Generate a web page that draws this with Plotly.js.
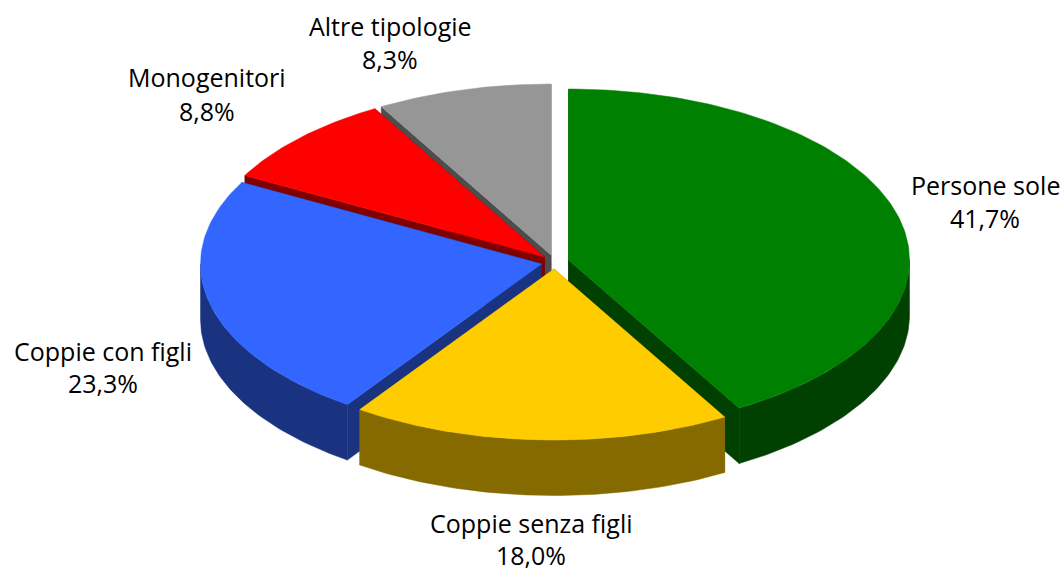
<!DOCTYPE html>
<html><head><meta charset="utf-8">
<script src="https://cdn.plot.ly/plotly-3.0.1.min.js"></script>
<style>html,body{margin:0;padding:0;background:#fff}#chart{width:1063px;height:569px}</style>
</head><body><div id="chart"></div>
<script>
// data, clockwise from 12 o'clock
const categories = ["Persone sole","Coppie senza figli","Coppie con figli","Monogenitori","Altre tipologie"];
const shares = [41.7,18.0,23.3,8.8,8.3];
// style
const topColors = ["#008000","#FFCC00","#3366FF","#FF0000","#969696"];
const sideColors = ["#004000","#856A00","#1A3380","#800000","#4D4D4D"];
// slice tips after explosion, in page pixels
const tipX = [568.5,554,541.5,544.5,551];
const tipY = [260,269,264,257,255];
const labelX = [985,531,103,207,390];
const labelNameY = [185,523,351,77,26];
const labelValueY = [218,555,383,111,59];
const drawOrder = [4,3,2,0,1];
const RX = 341, RY = 171, DEPTH = 55.5;
const FONT = {family:"Open Sans",size:25,color:"#000"};

const total = shares.reduce((a,b)=>a+b,0);
let acc = 0;
const startA = [], endA = [];
shares.forEach(s=>{startA.push(acc/total*360);acc+=s;endA.push(acc/total*360);});
const rad = d=>d*Math.PI/180;
const px = (i,a)=>tipX[i]+RX*Math.sin(rad(a));
const py = (i,a)=>tipY[i]-RY*Math.cos(rad(a));
function arc(i,a0,a1){const n=Math.max(2,Math.ceil(Math.abs(a1-a0)));const r=[];for(let k=0;k<=n;k++)r.push(a0+(a1-a0)*k/n);return r;}
function poly(xs,ys,color){return {type:"scatter",mode:"lines",x:[...xs,xs[0]],y:[...ys,ys[0]],fill:"toself",fillcolor:color,line:{color:color,width:0.5},hoverinfo:"skip",showlegend:false};}

const traces=[];
drawOrder.forEach(i=>{
  const side=sideColors[i];
  // outer wall
  const w0=Math.max(startA[i],90), w1=Math.min(endA[i],270);
  if(w1>w0){
    const as=arc(i,w0,w1);
    traces.push(poly([...as.map(a=>px(i,a)),...as.slice().reverse().map(a=>px(i,a))],
                     [...as.map(a=>py(i,a)),...as.slice().reverse().map(a=>py(i,a)+DEPTH)],side));
  }
  // radial cut faces
  [startA[i],endA[i]].forEach(a=>{
    traces.push(poly([tipX[i],px(i,a),px(i,a),tipX[i]],[tipY[i],py(i,a),py(i,a)+DEPTH,tipY[i]+DEPTH],side));
  });
  // top
  const as=arc(i,startA[i],endA[i]);
  traces.push(poly([tipX[i],...as.map(a=>px(i,a))],[tipY[i],...as.map(a=>py(i,a))],topColors[i]));
});

const annotations=[];
categories.forEach((c,i)=>{
  annotations.push({x:labelX[i],y:labelNameY[i],text:c,showarrow:false,xanchor:"center",yanchor:"middle",font:FONT});
  annotations.push({x:labelX[i],y:labelValueY[i],text:shares[i].toFixed(1).replace(".",",")+"%",showarrow:false,xanchor:"center",yanchor:"middle",font:FONT});
});

Plotly.newPlot("chart",traces,{
  width:1063,height:569,margin:{l:0,r:0,t:0,b:0},paper_bgcolor:"#fff",plot_bgcolor:"#fff",showlegend:false,
  xaxis:{range:[0,1063],visible:false,fixedrange:true},
  yaxis:{range:[569,0],visible:false,fixedrange:true},
  annotations
},{displayModeBar:false,staticPlot:true});
</script></body></html>
